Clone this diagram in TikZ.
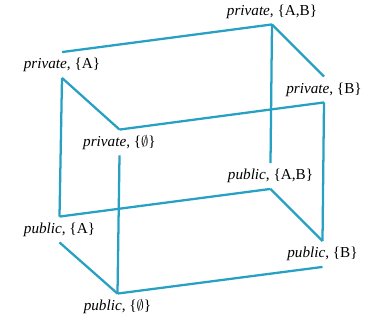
\documentclass[tikz,border=0pt]{standalone}
\usepackage{fontspec}
\setmainfont{Liberation Serif}
\definecolor{cubeblue}{RGB}{38,160,195}
\begin{document}
\begin{tikzpicture}[x=0.75pt,y=-0.75pt,
  lbl/.style={inner sep=0pt, minimum height=19pt, font=\fontsize{11.4}{13}\selectfont},
  edge/.style={draw=cubeblue, line width=1.7pt}]
\useasboundingbox (0,0) rectangle (371,320);
\node[lbl] (pAB) at (272,11.5) {\textit{private}, \{A,B\}};
\node[lbl] (pA) at (62,65) {\textit{private}, \{A\}};
\node[lbl] (pB) at (324,89.5) {\textit{private}, \{B\}};
\node[lbl] (p0) at (119.5,142.5) {\textit{private}, \{$\emptyset$\}};
\node[lbl] (uAB) at (270.5,176) {\textit{public}, \{A,B\}};
\node[lbl] (uA) at (59.5,229.5) {\textit{public}, \{A\}};
\node[lbl] (uB) at (322.5,254) {\textit{public}, \{B\}};
\node[lbl] (u0) at (117.5,306.5) {\textit{public}, \{$\emptyset$\}};
\draw[edge] (pA.north) -- (pAB.south);
\draw[edge] (pAB.south) -- (pB.north);
\draw[edge] (pAB.south) -- (uAB.north);
\draw[edge] (pA.south) -- (p0.north);
\draw[edge] (pA.south) -- (uA.north);
\draw[edge] (p0.north) -- (pB.south);
\draw[edge] (pB.south) -- (uB.north);
\draw[edge] (p0.south) -- (u0.north);
\draw[edge] (uAB.south) -- (uA.north);
\draw[edge] (uAB.south) -- (uB.north);
\draw[edge] (uA.south) -- (u0.north);
\draw[edge] (u0.north) -- (uB.south);
\end{tikzpicture}
\end{document}
